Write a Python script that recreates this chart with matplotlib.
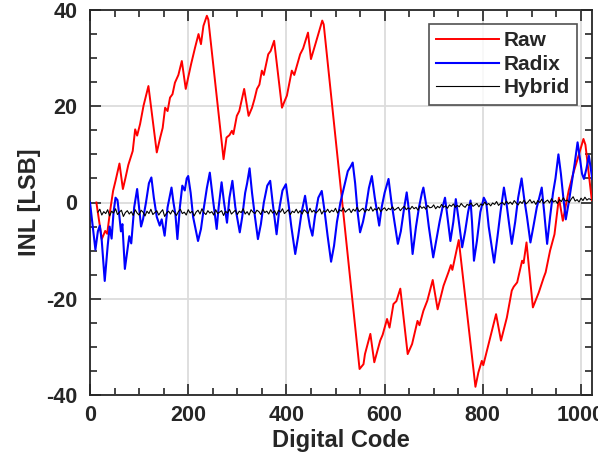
import numpy as np
import matplotlib
matplotlib.use("Agg")
import matplotlib.pyplot as plt
from matplotlib.ticker import MultipleLocator

# ---------------- data ----------------
raw_codes = [13, 24, 31, 35, 41, 47, 52, 60, 67, 72, 78, 87, 92, 96, 102, 109, 119, 136, 143, 148,
             153, 158, 163, 168, 173, 180, 187, 195, 200, 206, 214, 221, 226, 231, 238, 241, 272, 278,
             284, 289, 292, 299, 304, 314, 323, 330, 335, 340, 345, 350, 354, 363, 368, 375, 391, 396,
             401, 411, 416, 428, 434, 444, 450, 459, 465, 473, 476, 549, 557, 560, 571, 579, 591, 596,
             605, 610, 618, 624, 632, 647, 656, 667, 671, 679, 687, 698, 708, 720, 730, 735, 738, 751,
             785, 791, 798, 801, 815, 827, 837, 849, 859, 863, 870, 880, 883, 889, 902, 914, 924, 928,
             937, 946, 955, 963, 975, 984, 992, 1005, 1009, 1022]
raw_inl = [0, -7.6, -5.9, -6.5, -1.7, 2.4, 4.5, 8.1, 2.8, 5.0, 7.8, 10.7, 15.2, 13.9, 16.3, 20.1, 24.2,
           10.4, 13.5, 15.5, 19.7, 19.0, 21.8, 22.5, 24.9, 26.5, 29.4, 23.6, 26.0, 28.8, 32.2, 35.0, 32.9,
           36.7, 38.8, 38.0, 9.0, 13.5, 14.0, 14.9, 14.2, 18.0, 19.0, 23.6, 18.0, 19.7, 21.5, 23.6, 24.5,
           27.4, 26.5, 30.8, 31.5, 33.6, 19.7, 21.0, 22.2, 27.4, 26.5, 30.8, 32.0, 35.3, 29.8, 32.9, 35.0,
           37.8, 37.0, -34.6, -33.6, -31.5, -27.3, -33.2, -28.7, -27.5, -24.2, -26.0, -21.1, -20.5, -17.9,
           -31.5, -29.4, -24.6, -25.5, -22.5, -20.4, -16.1, -22.2, -17.3, -14.5, -13.0, -14.0, -7.8, -38.3,
           -35.3, -32.9, -33.8, -28.1, -23.2, -28.7, -23.9, -18.3, -17.5, -16.6, -12.1, -12.6, -8.3, -21.8,
           -18.7, -15.6, -14.5, -10.0, -6.6, 1.0, -3.8, 2.5, 6.0, 8.7, 13.2, 12.0, 0.5]

radix_codes = [0, 11, 16, 20, 24, 30, 36, 40, 44, 48, 52, 56, 60, 63, 66, 71, 76, 80, 84, 90, 96, 100,
               104, 108, 114, 120, 125, 130, 136, 142, 146, 152, 158, 166, 170, 174, 178, 183, 188, 193,
               197, 200, 205, 210, 220, 226, 232, 238, 244, 250, 258, 262, 268, 273, 279, 284, 290, 296,
               305, 310, 316, 320, 325, 330, 336, 342, 348, 354, 361, 367, 372, 380, 386, 392, 399, 404,
               410, 418, 424, 431, 438, 443, 448, 453, 458, 465, 472, 478, 484, 491, 497, 503, 510, 517,
               525, 531, 535, 540, 545, 550, 556, 562, 568, 574, 580, 589, 594, 600, 608, 614, 620, 627,
               633, 640, 645, 650, 657, 664, 670, 676, 679, 684, 690, 699, 705, 712, 718, 723, 728, 734,
               740, 745, 750, 758, 764, 770, 775, 778, 782, 788, 795, 802, 807, 812, 823, 830, 836, 843,
               848, 853, 859, 866, 872, 879, 884, 890, 897, 903, 910, 915, 920, 925, 931, 937, 943, 948,
               954, 959, 964, 969, 975, 981, 987, 993, 998, 1002, 1006, 1011, 1016, 1023]
radix_inl = [0, -9.8, -6, -4.8, -8, -16.3, -9, -5, -7.5, -2, 1.0, 0.5, -3, -6, -4.5, -13.8, -10, -7, -8.5,
             -1, 2.8, -1, -5, -3.5, 0, 4, 5.2, 1, -3, -4.8, -3.5, -6.9, -1, 3.1, 0, -2.5, -7.6, -1, 3.5,
             2.5, 5, 5.5, 2, -3, -8, -5.5, -1, 3, 6.2, 1, -5.5, -1, 4.2, 0, -4.2, 1, 4.5, -1, -6.2, -3, 2,
             4, 7.1, 2, -3, -7.6, -4.5, 0, 3.5, 4.5, 0, -6.6, -1, 2.5, 3.8, 0, -5, -10.7, -7, -2, 1.4, -2,
             -5, -6.9, -3, 1, 2.4, -2, -7, -12.3, -9, -4, 0, 3, 6.5, 7.5, 8.3, 4, -2, -6.2, -4, -1, 3, 5.5,
             1, -4.8, -1, 2, 4.9, 0, -4, -8.6, -6, -1, 2.1, -2, -10.7, -5, -1, 2, 3.1, 0, -5, -11.4, -8, -4,
             -1, 1.0, -3, -8, -4, 0.7, -3, -9.3, -6, -2, 0.4, -4, -12.1, -8, -2, 1.0, 0, -5, -12.5, -7, -2,
             3.1, 0, -4, -8.6, -4, 1, 5.0, 1, -3, -8.3, -5, -1, 1, 3.1, -2, -8.6, -3, 2, 5, 10, 6, 1, -3.5,
             0, 4, 8, 12.5, 9, 6, 4.9, 7, 9.7, 4.9]

hybrid_codes = np.arange(16, 1021, 4)
hybrid_inl = [
    -2.0, -1.4, -2.6, -1.9, -2.3, -1.5, -2.8, -1.8, -2.2, -1.3,
    -2.5, -2.0, -1.6, -2.9, -2.1, -1.7, -2.4, -1.9, -2.7, -1.5,
    -2.2, -2.6, -1.6, -2.0, -2.8, -1.8, -2.3, -1.4, -2.5, -2.1,
    -1.7, -2.6, -2.0, -1.5, -2.9, -2.2, -1.8, -2.4, -1.6, -2.1,
    -2.7, -1.9, -1.4, -2.3, -2.0, -2.6, -1.5, -2.2, -1.8, -2.8,
    -2.0, -1.6, -2.4, -1.3, -2.1, -2.5, -1.7, -2.2, -1.9, -2.6,
    -1.5, -2.3, -2.0, -1.7, -2.7, -1.8, -2.2, -1.4, -2.4, -2.0,
    -1.6, -2.5, -1.8, -2.1, -1.3, -2.4, -1.9, -2.6, -1.5, -2.0,
    -2.3, -1.6, -1.9, -2.5, -1.4, -2.1, -1.8, -2.4, -1.5, -2.2,
    -1.7, -2.6, -1.6, -2.0, -1.3, -2.3, -1.9, -1.5, -2.5, -1.8,
    -2.1, -1.4, -2.2, -1.7, -2.4, -1.5, -1.9, -2.3, -1.2, -2.0,
    -1.6, -2.2, -1.8, -1.3, -2.4, -1.7, -2.0, -1.4, -2.1, -1.6,
    -1.9, -1.2, -2.2, -1.5, -1.8, -1.1, -2.0, -1.6, -1.3, -2.1,
    -1.4, -1.8, -1.0, -1.9, -1.5, -1.2, -2.0, -1.4, -1.7, -0.9,
    -1.8, -1.3, -1.6, -1.0, -1.9, -1.4, -1.1, -1.7, -1.2, -1.5,
    -0.9, -1.6, -1.3, -1.0, -1.7, -1.2, -0.8, -1.5, -1.1, -1.4,
    -0.8, -1.3, -1.0, -1.6, -0.7, -1.2, -0.9, -1.4, -0.6, -1.1,
    -1.0, -0.5, -1.3, -0.8, -1.1, -0.4, -1.0, -0.7, -1.2, -0.5,
    -0.8, -0.3, -1.0, -0.6, -0.9, -0.2, -0.7, -1.0, -0.4, -0.6,
    -0.1, -0.8, -0.5, -0.2, -0.9, -0.3, -0.6, 0.1, -0.5, -0.2,
    -0.7, -0.1, -0.4, 0.2, -0.6, -0.2, 0.0, -0.5, 0.3, -0.3,
    0.1, -0.4, 0.4, -0.1, -0.5, 0.2, -0.2, 0.5, -0.3, 0.1,
    0.6, -0.1, 0.3, -0.4, 0.4, 0.0, 0.7, -0.2, 0.2, 0.5,
    -0.1, 0.8, 0.1, 0.4, -0.2, 0.6, 0.2, 1.0, 0.3, 0.5,
    0.0, 0.7, 1.2, 0.3, 0.6, 0.1, 0.9, 0.4, 1.1, 0.5,
    0.8, 0.6]

x_ticks = [0, 200, 400, 600, 800, 1000]
y_ticks = [-40, -20, 0, 20, 40]

# ---------------- figure ----------------
plt.rcParams['font.family'] = ['Liberation Sans', 'DejaVu Sans']
plt.rcParams['font.weight'] = 'bold'
plt.rcParams['axes.unicode_minus'] = False
dark = '#262626'

fig = plt.figure(figsize=(5.98, 4.63), dpi=100)
ax = fig.add_axes([90/598, 1-395/463, (592.3-90)/598, (395-10)/463])

ax.plot(raw_codes, raw_inl, color='#ff0000', lw=1.4, label='Raw', zorder=3)
ax.plot(radix_codes, radix_inl, color='#0000ff', lw=1.5, label='Radix', zorder=4)
ax.plot(hybrid_codes, hybrid_inl, color='black', lw=0.8, label='Hybrid', zorder=5)

ax.set_xlim(0, 1023)
ax.set_ylim(-40, 40)
ax.set_xticks(x_ticks)
ax.set_yticks(y_ticks)
ax.xaxis.set_minor_locator(MultipleLocator(50))
ax.yaxis.set_minor_locator(MultipleLocator(5))
ax.grid(True, which='major', color='#dcdcdc', lw=1.3, zorder=0)
ax.set_axisbelow(True)

ax.tick_params(which='both', direction='in', top=True, right=True, colors=dark, width=1.2)
ax.tick_params(which='major', length=8, labelsize=15.5, pad=9)
ax.tick_params(which='minor', length=5)
ax.tick_params(axis='x', which='major', pad=7)
for lab in ax.get_xticklabels() + ax.get_yticklabels():
    lab.set_fontweight('bold')
for sp in ax.spines.values():
    sp.set_color(dark)
    sp.set_linewidth(1.3)

ax.set_xlabel('Digital Code', fontsize=17, fontweight='bold', color=dark, labelpad=2)
ax.set_ylabel('INL [LSB]', fontsize=17, fontweight='bold', color=dark, labelpad=4)

leg = ax.legend(loc='upper right', bbox_to_anchor=(577.3/598, 1-24/463), bbox_transform=fig.transFigure,
                prop={'weight': 'bold', 'size': 15}, frameon=True, fancybox=False,
                handlelength=3.0, handletextpad=0.25, borderpad=0.35, labelspacing=0.22,
                borderaxespad=0)
leg.get_frame().set_edgecolor(dark)
leg.get_frame().set_linewidth(1.2)
for t in leg.get_texts():
    t.set_color(dark)

fig.savefig('out.png', dpi=100)
